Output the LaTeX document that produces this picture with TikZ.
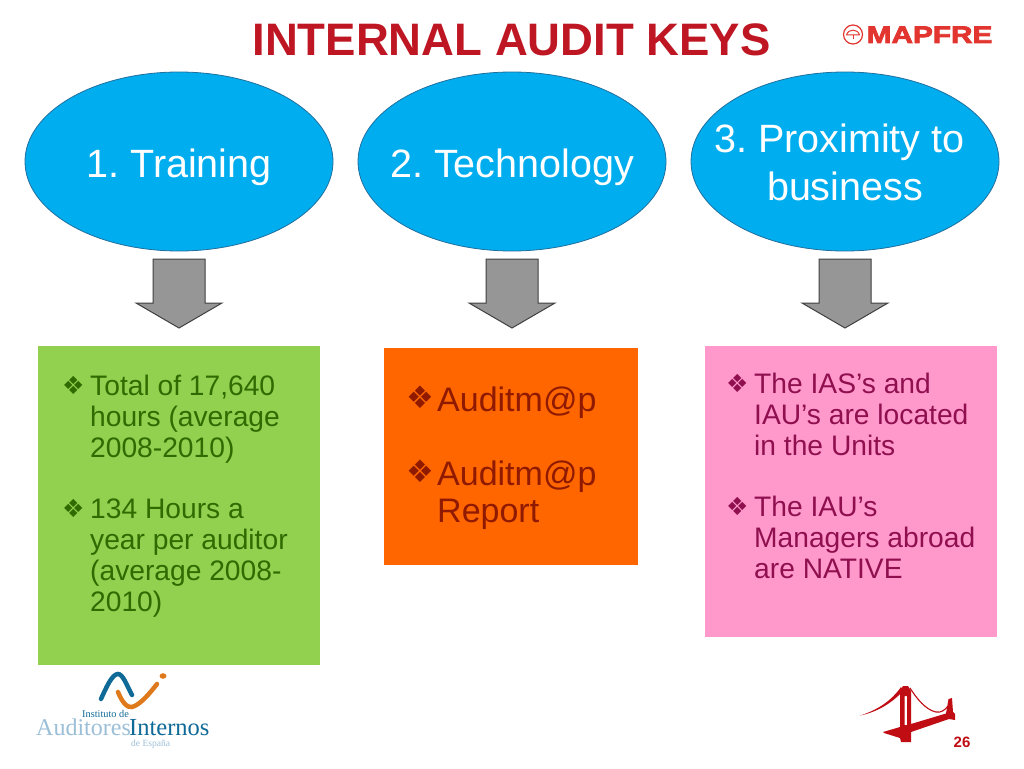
\documentclass[tikz,border=0pt]{standalone}
\usepackage{fontspec}
\usetikzlibrary{shapes.geometric}
\setmainfont{Liberation Sans}
\newfontfamily\bulletfont{DejaVu Sans}
\newfontfamily\mapfont[FakeStretch=1.24,BoldFeatures={FakeBold=3.5}]{Liberation Sans}
\newfontfamily\serifface{Liberation Serif}
\definecolor{titlered}{HTML}{BE1622}
\definecolor{skyfill}{HTML}{00ADEF}
\definecolor{skyline}{HTML}{1F6F9F}
\definecolor{leaf}{HTML}{92D050}
\definecolor{leaftext}{HTML}{2F6B00}
\definecolor{tang}{HTML}{FF6600}
\definecolor{tangtext}{HTML}{8F1A00}
\definecolor{rosa}{HTML}{FF99CC}
\definecolor{rosatext}{HTML}{8F0F4F}
\definecolor{arrowgrey}{HTML}{969696}
\definecolor{bridge}{HTML}{C00D14}
\definecolor{logoblue}{HTML}{0F6A97}
\definecolor{logopale}{HTML}{9CBFD8}
\definecolor{logoorange}{HTML}{DF7A1C}
\definecolor{mapred}{HTML}{E2352F}
\tikzset{
  x=1pt,y=-1pt,
  keyoval/.style={ellipse,draw=skyline,line width=.8pt,fill=skyfill,minimum width=308pt,minimum height=179pt,inner sep=0pt},
  ovaltext/.style={inner sep=0pt,align=center,text=white,font=\fontsize{39.5}{48}\selectfont},
  panel/.style={rectangle,anchor=north west,inner sep=0pt,fill=#1},
  downarrow/.style={draw=black!75,line width=1pt,fill=arrowgrey,line join=miter},
  smalltext/.style={anchor=base west,inner sep=0pt,align=left,font=\fontsize{28.2}{31}\selectfont},
  bigtext/.style={anchor=base west,inner sep=0pt,align=left,font=\fontsize{34}{37}\selectfont},
  smallmark/.style={anchor=base west,inner sep=0pt,font=\bulletfont\fontsize{25}{25}\selectfont},
  bigmark/.style={anchor=base west,inner sep=0pt,font=\bulletfont\fontsize{31}{31}\selectfont},
}
\begin{document}
\frenchspacing
\begin{tikzpicture}
\useasboundingbox (0,0) rectangle (1024,768);
\fill[white] (0,0) rectangle (1024,768);
% title and logo
\node[anchor=base,inner sep=0pt,text=titlered,font=\bfseries\fontsize{45.5}{50}\selectfont] (title) at (511.5,56) {INTERNAL AUDIT KEYS};
\node[anchor=base west,inner sep=0pt,text=mapred,font=\mapfont\bfseries\fontsize{24}{24}\selectfont] (mapfre) at (866.5,43) {MAPFRE};
\draw[mapred,line width=1.2pt] (853,34.5) circle (9.5);
\draw[mapred,line width=1pt] (846.5,35) .. controls (848,28.5) and (858,28.5) .. (859.5,35) -- cycle;
\draw[mapred,line width=1pt] (853,35) -- (853,39.5);
% ovals
\node[keyoval] (k1) at (179,161.5) {};
\node[keyoval] (k2) at (512,161.5) {};
\node[keyoval] (k3) at (845,161.5) {};
\node[ovaltext] (l1) at ([yshift=-5.5pt]k1.center) {1. Training};
\node[ovaltext] (l2) at ([yshift=-5.5pt]k2.center) {2. Technology};
\node[ovaltext] (l3) at ([yshift=-1pt]k3.center) {3. Proximity to\hspace*{11pt}\\business};
% arrows
\foreach \cx in {179,512,845}{
  \draw[downarrow] (\cx-26,259) -- (\cx+26,259) -- (\cx+26,303) -- (\cx+43,303) -- (\cx,328) -- (\cx-43,303) -- (\cx-26,303) -- cycle;
}
% panels
\node[panel=leaf,minimum width=282pt,minimum height=319pt] (p1) at (38,346) {};
\node[panel=tang,minimum width=254pt,minimum height=217pt] (p2) at (384,348) {};
\node[panel=rosa,minimum width=292pt,minimum height=291pt] (p3) at (705,346) {};
% green panel text
\begin{scope}[text=leaftext]
\node[smallmark] (m1) at (62,394) {❖};
\node[smalltext] (t1) at (90,457) {Total of 17,640\\hours (average\\2008-2010)};
\node[smallmark] (m2) at (62,517) {❖};
\node[smalltext] (t2) at (90,611) {134 Hours a\\year per auditor\\(average 2008-\\2010)};
\end{scope}
% orange panel text
\begin{scope}[text=tangtext]
\node[bigmark] (m3) at (406,408) {❖};
\node[bigtext] (t3) at (437,411) {Auditm@p};
\node[bigmark] (m4) at (406,482) {❖};
\node[bigtext] (t4) at (437,522) {Auditm@p\\Report};
\end{scope}
% pink panel text
\begin{scope}[text=rosatext]
\node[smallmark] (m5) at (726,392) {❖};
\node[smalltext] (t5) at (754,455) {The IAS’s and\\IAU’s are located\\in the Units};
\node[smallmark] (m6) at (726,515) {❖};
\node[smalltext] (t6) at (754,578) {The IAU’s\\Managers abroad\\are NATIVE};
\end{scope}
% institute logo
\draw[logoblue,line width=4.5pt,line cap=round] (101,699) .. controls (106,688) and (112,674) .. (118,674) .. controls (123,674) and (127,686) .. (132,695);
\draw[logoorange,line width=4.5pt,line cap=round] (118,692) .. controls (122,702) and (127,708) .. (132,707) .. controls (140,705) and (150,693) .. (157,684);
\fill[logoorange] (163,676) ellipse (3.5 and 2.8);
\node[anchor=base west,inner sep=0pt,text=logoblue,font=\serifface\fontsize{10.3}{11}\selectfont] (inst) at (82,717) {Instituto de};
\node[anchor=base west,inner sep=0pt,text=logopale,font=\serifface\fontsize{24}{25}\selectfont] (aud) at (36,735) {Auditores};
\node[anchor=base west,inner sep=0pt,text=logoblue,font=\serifface\fontsize{24.5}{25}\selectfont] (int) at (129,735) {Internos};
\node[anchor=base west,inner sep=0pt,text=logopale,font=\serifface\fontsize{9.5}{10}\selectfont] (esp) at (131,746) {de España};
% bridge
\fill[bridge,even odd rule] (900,691) -- (903,686) -- (908,686) -- (911,691) -- (911,724) -- (946,713.5) -- (948.5,699) -- (952,698) -- (953,712) -- (955,714) -- (955,720) -- (949,719) -- (911,732) -- (911,742) -- (901,742) -- (900,738) -- (884,733) -- (883,732) -- (900,727) -- cycle
  (904.5,696) rectangle (907,725);
\fill[bridge] (860,715.5) .. controls (878,710) and (892,700) .. (901,687) -- (903,691) .. controls (893,702) and (878,712) .. (860,715.5) -- cycle;
\draw[bridge,line width=1.1pt] (910,688) .. controls (917,699) and (926,710) .. (936,712) .. controls (941,713) and (945,710) .. (948,706);
\node[anchor=base,inner sep=0pt,text=bridge,font=\bfseries\fontsize{15}{15}\selectfont] (page) at (962,747) {26};
\end{tikzpicture}
\end{document}
